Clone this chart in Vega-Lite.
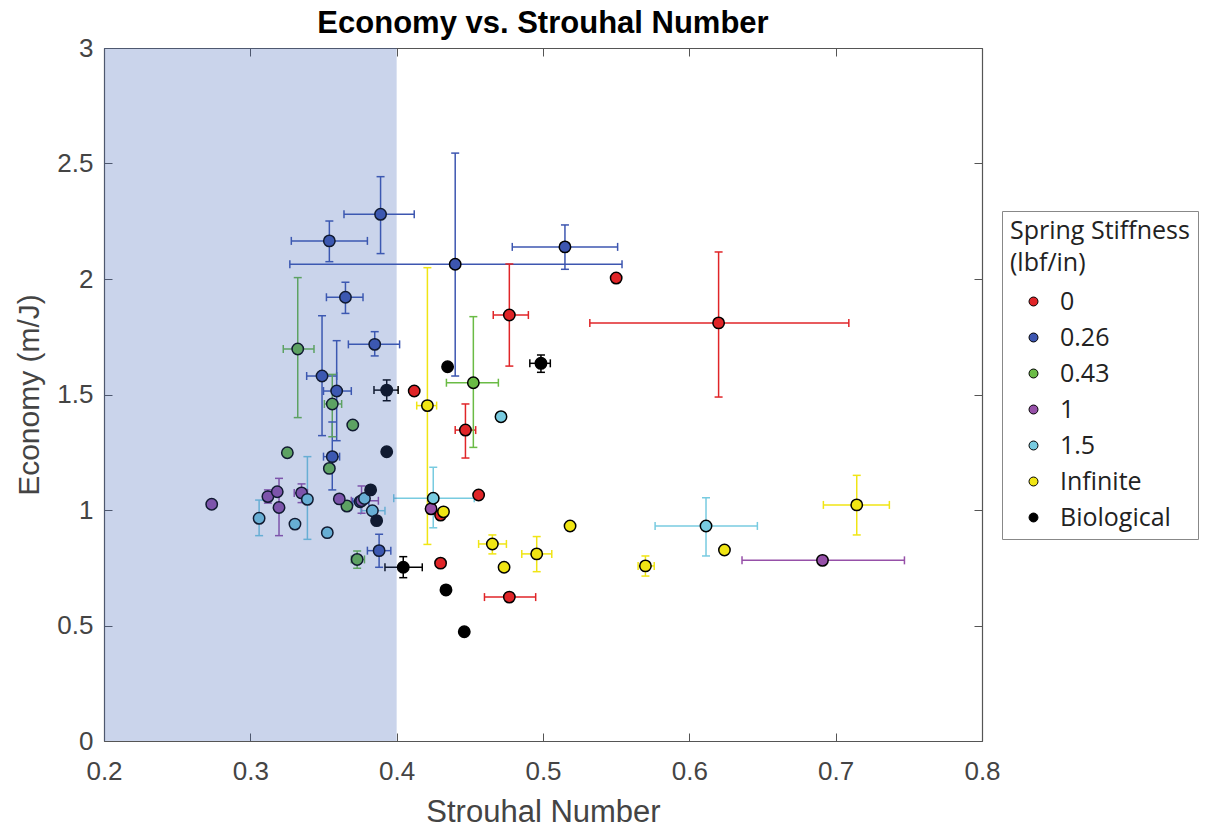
{
  "$schema": "https://vega.github.io/schema/vega-lite/v6.json",
  "width": 878,
  "height": 693,
  "autosize": {"type": "none"},
  "padding": {"left": 104, "top": 48, "right": 238, "bottom": 92},
  "background": "white",
  "title": {"text": "Economy vs. Strouhal Number", "font": "Liberation Sans", "fontSize": 31, "fontWeight": "bold", "color": "#000000", "offset": -5, "anchor": "middle"},
  "config": {
    "view": {"stroke": null}
  },
  "datasets": {
    "pts": [
      {"g": "0", "x": 0.550, "y": 2.004},
      {"g": "0", "x": 0.620, "y": 1.810, "xlo": 0.532, "xhi": 0.709, "ylo": 1.489, "yhi": 2.117},
      {"g": "0", "x": 0.477, "y": 1.844, "xlo": 0.466, "xhi": 0.490, "ylo": 1.623, "yhi": 2.065},
      {"g": "0", "x": 0.412, "y": 1.515},
      {"g": "0", "x": 0.447, "y": 1.346, "xlo": 0.440, "xhi": 0.454, "ylo": 1.225, "yhi": 1.459},
      {"g": "0", "x": 0.456, "y": 1.065},
      {"g": "0", "x": 0.430, "y": 0.978},
      {"g": "0", "x": 0.430, "y": 0.770},
      {"g": "0", "x": 0.477, "y": 0.623, "xlo": 0.460, "xhi": 0.495, "ylo": 0.605, "yhi": 0.640},
      {"g": "0.26", "x": 0.389, "y": 2.280, "xlo": 0.364, "xhi": 0.412, "ylo": 2.110, "yhi": 2.443},
      {"g": "0.26", "x": 0.354, "y": 2.165, "xlo": 0.328, "xhi": 0.380, "ylo": 2.075, "yhi": 2.251},
      {"g": "0.26", "x": 0.440, "y": 2.064, "xlo": 0.327, "xhi": 0.554, "ylo": 1.580, "yhi": 2.545},
      {"g": "0.26", "x": 0.515, "y": 2.139, "xlo": 0.479, "xhi": 0.551, "ylo": 2.042, "yhi": 2.234},
      {"g": "0.26", "x": 0.365, "y": 1.921, "xlo": 0.352, "xhi": 0.377, "ylo": 1.851, "yhi": 1.986},
      {"g": "0.26", "x": 0.385, "y": 1.717, "xlo": 0.367, "xhi": 0.402, "ylo": 1.667, "yhi": 1.772},
      {"g": "0.26", "x": 0.349, "y": 1.580, "xlo": 0.3385, "xhi": 0.359, "ylo": 1.322, "yhi": 1.841},
      {"g": "0.26", "x": 0.359, "y": 1.515, "xlo": 0.350, "xhi": 0.369, "ylo": 1.300, "yhi": 1.733},
      {"g": "0.26", "x": 0.356, "y": 1.231, "xlo": 0.350, "xhi": 0.361, "ylo": 1.087, "yhi": 1.381},
      {"g": "0.26", "x": 0.388, "y": 0.824, "xlo": 0.380, "xhi": 0.396, "ylo": 0.752, "yhi": 0.895},
      {"g": "0.26", "x": 0.375, "y": 1.036, "xlo": 0.370, "xhi": 0.381},
      {"g": "0.43", "x": 0.3324, "y": 1.697, "xlo": 0.3225, "xhi": 0.3435, "ylo": 1.400, "yhi": 2.006},
      {"g": "0.43", "x": 0.4524, "y": 1.551, "xlo": 0.434, "xhi": 0.4695, "ylo": 1.271, "yhi": 1.837},
      {"g": "0.43", "x": 0.356, "y": 1.459, "xlo": 0.3506, "xhi": 0.3624, "ylo": 1.317, "yhi": 1.587},
      {"g": "0.43", "x": 0.370, "y": 1.368},
      {"g": "0.43", "x": 0.3253, "y": 1.248},
      {"g": "0.43", "x": 0.354, "y": 1.180},
      {"g": "0.43", "x": 0.366, "y": 1.017},
      {"g": "0.43", "x": 0.373, "y": 0.786, "xlo": 0.369, "xhi": 0.378, "ylo": 0.748, "yhi": 0.822},
      {"g": "1", "x": 0.2736, "y": 1.025},
      {"g": "1", "x": 0.312, "y": 1.058, "ylo": 1.030, "yhi": 1.087},
      {"g": "1", "x": 0.3184, "y": 1.079},
      {"g": "1", "x": 0.3196, "y": 1.011, "ylo": 0.889, "yhi": 1.137},
      {"g": "1", "x": 0.335, "y": 1.074, "xlo": 0.330, "xhi": 0.339, "ylo": 1.032, "yhi": 1.113},
      {"g": "1", "x": 0.3608, "y": 1.048},
      {"g": "1", "x": 0.376, "y": 1.040, "xlo": 0.369, "xhi": 0.3875, "ylo": 0.986, "yhi": 1.104},
      {"g": "1", "x": 0.4235, "y": 1.005},
      {"g": "1", "x": 0.691, "y": 0.782, "xlo": 0.636, "xhi": 0.747},
      {"g": "1.5", "x": 0.4713, "y": 1.404},
      {"g": "1.5", "x": 0.306, "y": 0.964, "ylo": 0.889, "yhi": 1.043},
      {"g": "1.5", "x": 0.3305, "y": 0.939},
      {"g": "1.5", "x": 0.339, "y": 1.046, "ylo": 0.873, "yhi": 1.231},
      {"g": "1.5", "x": 0.3526, "y": 0.902},
      {"g": "1.5", "x": 0.378, "y": 1.050},
      {"g": "1.5", "x": 0.3834, "y": 0.997, "xlo": 0.3754, "xhi": 0.392},
      {"g": "1.5", "x": 0.425, "y": 1.051, "xlo": 0.398, "xhi": 0.453, "ylo": 0.923, "yhi": 1.185},
      {"g": "1.5", "x": 0.6114, "y": 0.931, "xlo": 0.5766, "xhi": 0.6465, "ylo": 0.801, "yhi": 1.053},
      {"g": "Infinite", "x": 0.421, "y": 1.452, "xlo": 0.4137, "xhi": 0.4273, "ylo": 0.851, "yhi": 2.049},
      {"g": "Infinite", "x": 0.432, "y": 0.992},
      {"g": "Infinite", "x": 0.4654, "y": 0.853, "xlo": 0.456, "xhi": 0.475, "ylo": 0.810, "yhi": 0.892},
      {"g": "Infinite", "x": 0.4957, "y": 0.810, "xlo": 0.4855, "xhi": 0.506, "ylo": 0.733, "yhi": 0.885},
      {"g": "Infinite", "x": 0.4734, "y": 0.752},
      {"g": "Infinite", "x": 0.5185, "y": 0.931},
      {"g": "Infinite", "x": 0.570, "y": 0.758, "xlo": 0.565, "xhi": 0.576, "ylo": 0.714, "yhi": 0.801},
      {"g": "Infinite", "x": 0.624, "y": 0.827},
      {"g": "Infinite", "x": 0.7144, "y": 1.022, "xlo": 0.6916, "xhi": 0.7367, "ylo": 0.892, "yhi": 1.150},
      {"g": "Biological", "x": 0.4986, "y": 1.635, "xlo": 0.491, "xhi": 0.505, "ylo": 1.596, "yhi": 1.671},
      {"g": "Biological", "x": 0.4348, "y": 1.620},
      {"g": "Biological", "x": 0.3932, "y": 1.519, "xlo": 0.3845, "xhi": 0.401, "ylo": 1.473, "yhi": 1.563},
      {"g": "Biological", "x": 0.3932, "y": 1.252},
      {"g": "Biological", "x": 0.3822, "y": 1.087},
      {"g": "Biological", "x": 0.3863, "y": 0.954},
      {"g": "Biological", "x": 0.4045, "y": 0.752, "xlo": 0.392, "xhi": 0.4175, "ylo": 0.707, "yhi": 0.798},
      {"g": "Biological", "x": 0.4337, "y": 0.654},
      {"g": "Biological", "x": 0.4462, "y": 0.473}
    ],
    "shade": [{"x1": 0.2, "x2": 0.4, "y1": 0, "y2": 3}]
  },
  "layer": [
    {
      "data": {"name": "pts"},
      "transform": [{"filter": {"field": "xlo", "valid": true}}],
      "mark": {"type": "rule", "strokeWidth": 1.5},
      "encoding": {
        "x": {"field": "xlo", "type": "quantitative", "scale": {"domain": [0.2, 0.8], "nice": false, "zero": false}, "axis": null},
        "x2": {"field": "xhi"},
        "y": {"field": "y", "type": "quantitative", "scale": {"domain": [0, 3], "nice": false, "zero": false}, "axis": null},
        "stroke": {"field": "g", "type": "nominal", "scale": {"domain": ["Biological", "Infinite", "1.5", "1", "0.43", "0.26", "0"], "range": ["#000000", "#f0e514", "#78cbe0", "#9650a8", "#6abb45", "#3d56b0", "#e02528"]}, "legend": null}
      }
    },
    {
      "data": {"name": "pts"},
      "transform": [{"filter": {"field": "ylo", "valid": true}}],
      "mark": {"type": "rule", "strokeWidth": 1.5},
      "encoding": {
        "x": {"field": "x", "type": "quantitative", "scale": {"domain": [0.2, 0.8], "nice": false, "zero": false}, "axis": null},
        "y": {"field": "ylo", "type": "quantitative", "scale": {"domain": [0, 3], "nice": false, "zero": false}, "axis": null},
        "y2": {"field": "yhi"},
        "stroke": {"field": "g", "type": "nominal", "scale": {"domain": ["Biological", "Infinite", "1.5", "1", "0.43", "0.26", "0"], "range": ["#000000", "#f0e514", "#78cbe0", "#9650a8", "#6abb45", "#3d56b0", "#e02528"]}, "legend": null}
      }
    },
    {
      "data": {"name": "pts"},
      "transform": [{"filter": {"field": "xlo", "valid": true}}],
      "mark": {"type": "tick", "orient": "vertical", "size": 8, "thickness": 1.5, "opacity": 1},
      "encoding": {
        "x": {"field": "xlo", "type": "quantitative", "scale": {"domain": [0.2, 0.8], "nice": false, "zero": false}, "axis": null},
        "y": {"field": "y", "type": "quantitative", "scale": {"domain": [0, 3], "nice": false, "zero": false}, "axis": null},
        "fill": {"field": "g", "type": "nominal", "scale": {"domain": ["Biological", "Infinite", "1.5", "1", "0.43", "0.26", "0"], "range": ["#000000", "#f0e514", "#78cbe0", "#9650a8", "#6abb45", "#3d56b0", "#e02528"]}, "legend": null}
      }
    },
    {
      "data": {"name": "pts"},
      "transform": [{"filter": {"field": "xhi", "valid": true}}],
      "mark": {"type": "tick", "orient": "vertical", "size": 8, "thickness": 1.5, "opacity": 1},
      "encoding": {
        "x": {"field": "xhi", "type": "quantitative", "scale": {"domain": [0.2, 0.8], "nice": false, "zero": false}, "axis": null},
        "y": {"field": "y", "type": "quantitative", "scale": {"domain": [0, 3], "nice": false, "zero": false}, "axis": null},
        "fill": {"field": "g", "type": "nominal", "scale": {"domain": ["Biological", "Infinite", "1.5", "1", "0.43", "0.26", "0"], "range": ["#000000", "#f0e514", "#78cbe0", "#9650a8", "#6abb45", "#3d56b0", "#e02528"]}, "legend": null}
      }
    },
    {
      "data": {"name": "pts"},
      "transform": [{"filter": {"field": "ylo", "valid": true}}],
      "mark": {"type": "tick", "orient": "horizontal", "size": 8, "thickness": 1.5, "opacity": 1},
      "encoding": {
        "x": {"field": "x", "type": "quantitative", "scale": {"domain": [0.2, 0.8], "nice": false, "zero": false}, "axis": null},
        "y": {"field": "ylo", "type": "quantitative", "scale": {"domain": [0, 3], "nice": false, "zero": false}, "axis": null},
        "fill": {"field": "g", "type": "nominal", "scale": {"domain": ["Biological", "Infinite", "1.5", "1", "0.43", "0.26", "0"], "range": ["#000000", "#f0e514", "#78cbe0", "#9650a8", "#6abb45", "#3d56b0", "#e02528"]}, "legend": null}
      }
    },
    {
      "data": {"name": "pts"},
      "transform": [{"filter": {"field": "yhi", "valid": true}}],
      "mark": {"type": "tick", "orient": "horizontal", "size": 8, "thickness": 1.5, "opacity": 1},
      "encoding": {
        "x": {"field": "x", "type": "quantitative", "scale": {"domain": [0.2, 0.8], "nice": false, "zero": false}, "axis": null},
        "y": {"field": "yhi", "type": "quantitative", "scale": {"domain": [0, 3], "nice": false, "zero": false}, "axis": null},
        "fill": {"field": "g", "type": "nominal", "scale": {"domain": ["Biological", "Infinite", "1.5", "1", "0.43", "0.26", "0"], "range": ["#000000", "#f0e514", "#78cbe0", "#9650a8", "#6abb45", "#3d56b0", "#e02528"]}, "legend": null}
      }
    },
    {
      "data": {"name": "pts"},
      "mark": {"type": "point", "shape": "circle", "filled": true, "size": 130, "stroke": "#000000", "strokeWidth": 1.5, "opacity": 1},
      "encoding": {
        "x": {"field": "x", "type": "quantitative", "scale": {"domain": [0.2, 0.8], "nice": false, "zero": false},
          "axis": {"orient": "bottom", "title": "Strouhal Number", "values": [0.2, 0.3, 0.4, 0.5, 0.6, 0.7, 0.8], "format": "~g", "grid": false,
            "domainColor": "#555555", "domainWidth": 1.2, "tickColor": "#555555", "tickSize": -8, "tickWidth": 1,
            "labelFont": "Liberation Sans", "labelFontSize": 26, "labelColor": "#444444", "labelPadding": 25, "labelFlush": false,
            "titleFont": "Liberation Sans", "titleFontSize": 31, "titleFontWeight": "normal", "titleColor": "#444444", "titlePadding": 13}},
        "y": {"field": "y", "type": "quantitative", "scale": {"domain": [0, 3], "nice": false, "zero": false},
          "axis": {"orient": "left", "title": "Economy (m/J)", "values": [0, 0.5, 1, 1.5, 2, 2.5, 3], "format": "~g", "grid": false,
            "domainColor": "#555555", "domainWidth": 1.2, "tickColor": "#555555", "tickSize": -8, "tickWidth": 1,
            "labelFont": "Liberation Sans", "labelFontSize": 26, "labelColor": "#444444", "labelPadding": 19, "labelFlush": false,
            "titleFont": "Liberation Sans", "titleFontSize": 30, "titleFontWeight": "normal", "titleColor": "#444444", "titlePadding": 12}},
        "color": {"field": "g", "type": "nominal", "scale": {"domain": ["0", "0.26", "0.43", "1", "1.5", "Infinite", "Biological"], "range": ["#e02528", "#3d56b0", "#6abb45", "#9650a8", "#78cbe0", "#f0e514", "#000000"]},
          "legend": {"title": ["Spring Stiffness", "(lbf/in)"], "orient": "none", "legendX": 898, "legendY": 163,
            "titleFont": "Open Sans", "titleFontSize": 25, "titleFontWeight": "normal", "titleColor": "#222222", "titleLineHeight": 32, "titlePadding": 13, "titleLimit": 220,
            "labelFont": "Open Sans", "labelFontSize": 25, "labelColor": "#222222", "labelLimit": 200,
            "symbolSize": 80, "symbolStrokeColor": "black", "symbolStrokeWidth": 1, "symbolType": "circle", "symbolOpacity": 1, "symbolOffset": 11,
            "strokeColor": "#888888", "padding": 8, "rowPadding": 10, "labelOffset": 14, "fillColor": "white"}}
      }
    },
    {
      "data": {"name": "shade"},
      "mark": {"type": "rect", "color": "#3a5fb6", "opacity": 0.27},
      "encoding": {
        "x": {"field": "x1", "type": "quantitative", "scale": {"domain": [0.2, 0.8], "nice": false, "zero": false},
          "axis": {"orient": "top", "title": null, "labels": false, "values": [0.2, 0.3, 0.4, 0.5, 0.6, 0.7, 0.8], "grid": false,
            "domainColor": "#555555", "domainWidth": 1.2, "tickColor": "#555555", "tickSize": -8, "tickWidth": 1}},
        "x2": {"field": "x2"},
        "y": {"field": "y1", "type": "quantitative", "scale": {"domain": [0, 3], "nice": false, "zero": false},
          "axis": {"orient": "right", "title": null, "labels": false, "values": [0, 0.5, 1, 1.5, 2, 2.5, 3], "grid": false,
            "domainColor": "#555555", "domainWidth": 1.2, "tickColor": "#555555", "tickSize": -8, "tickWidth": 1}},
        "y2": {"field": "y2"}
      }
    }
  ],
  "resolve": {"axis": {"x": "independent", "y": "independent"}}
}
